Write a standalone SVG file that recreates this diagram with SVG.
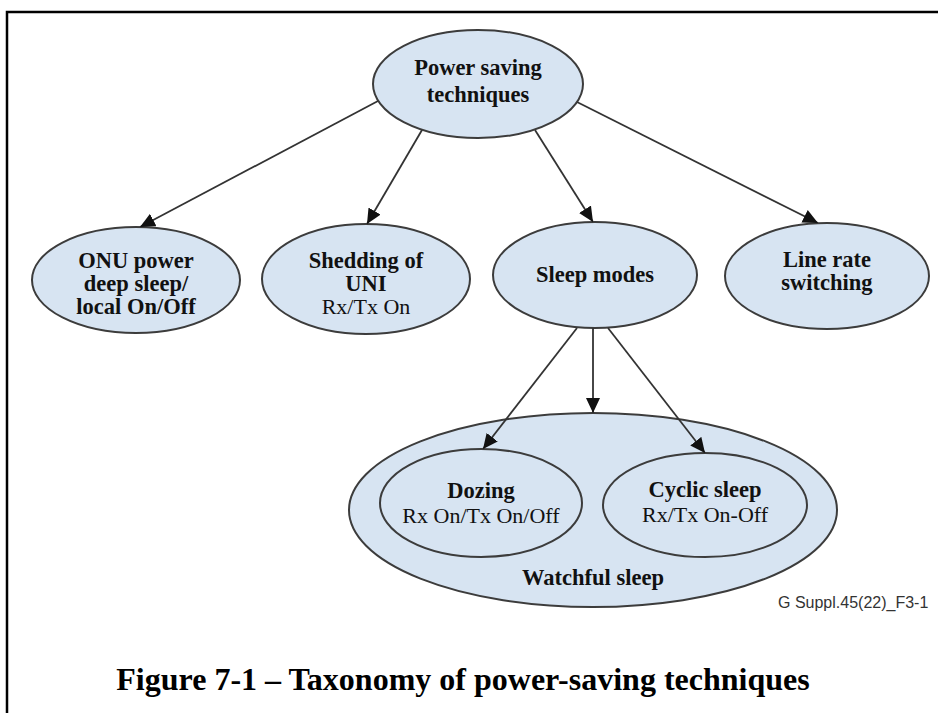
<svg xmlns="http://www.w3.org/2000/svg" width="938" height="713" viewBox="0 0 938 713">
<defs>
<marker id="ah" markerUnits="userSpaceOnUse" markerWidth="16" markerHeight="14" refX="15" refY="7" orient="auto">
<path d="M0,0 L15,7 L0,14 Z" fill="#111"/>
</marker>
<style>
.n{fill:#d7e4f2;stroke:#3c3c3c;stroke-width:2}
.b{font-family:"Liberation Serif","Times New Roman",serif;font-weight:bold;font-size:22.5px;fill:#111;text-anchor:middle}
.r{font-family:"Liberation Serif","Times New Roman",serif;font-size:22px;fill:#111;text-anchor:middle}
.c line{stroke:#333;stroke-width:1.8;marker-end:url(#ah)}
</style>
</defs>
<rect width="938" height="713" fill="#fff"/>
<rect x="7" y="12" width="940" height="720" fill="none" stroke="#000" stroke-width="2.5"/>

<g id="watchful">
<ellipse class="n" cx="593" cy="510" rx="244" ry="97"/>
<text class="b" x="593" y="585">Watchful sleep</text>
</g>
<g id="dozing">
<ellipse class="n" cx="481" cy="503" rx="101" ry="54"/>
<text class="b" x="481" y="498">Dozing</text>
<text class="r" x="481" y="523">Rx On/Tx On/Off</text>
</g>
<g id="cyclic">
<ellipse class="n" cx="705" cy="505" rx="102" ry="52"/>
<text class="b" x="705" y="497">Cyclic sleep</text>
<text class="r" x="705" y="522">Rx/Tx On-Off</text>
</g>
<g id="root">
<ellipse class="n" cx="478" cy="84" rx="105" ry="54"/>
<text class="b" x="478" y="75">Power saving</text>
<text class="b" x="478" y="102">techniques</text>
</g>
<g id="onu">
<ellipse class="n" cx="136" cy="280" rx="104" ry="53"/>
<text class="b" x="136" y="268">ONU power</text>
<text class="b" x="136" y="291">deep sleep/</text>
<text class="b" x="136" y="314">local On/Off</text>
</g>
<g id="shedding">
<ellipse class="n" cx="366" cy="279" rx="104" ry="55"/>
<text class="b" x="366" y="268">Shedding of</text>
<text class="b" x="366" y="291">UNI</text>
<text class="r" x="366" y="314">Rx/Tx On</text>
</g>
<g id="sleep">
<ellipse class="n" cx="595" cy="275" rx="102" ry="53"/>
<text class="b" x="595" y="282">Sleep modes</text>
</g>
<g id="linerate">
<ellipse class="n" cx="827" cy="276" rx="102" ry="53"/>
<text class="b" x="827" y="267">Line rate</text>
<text class="b" x="827" y="290">switching</text>
</g>

<g class="c" id="connectors">
<line x1="378" y1="101" x2="140" y2="227"/>
<line x1="422" y1="130" x2="367" y2="224"/>
<line x1="535" y1="130" x2="593" y2="222"/>
<line x1="577" y1="102" x2="818" y2="223"/>
<line x1="577" y1="328" x2="483" y2="449"/>
<line x1="593" y1="328" x2="593" y2="413"/>
<line x1="608" y1="328" x2="705" y2="453"/>
</g>

<text x="778" y="608" font-family="'Liberation Sans',Arial,sans-serif" font-size="16" fill="#333">G Suppl.45(22)_F3-1</text>
<text x="463" y="690" font-family="'Liberation Serif','Times New Roman',serif" font-weight="bold" font-size="32" fill="#000" text-anchor="middle">Figure 7-1 – Taxonomy of power-saving techniques</text>
</svg>
